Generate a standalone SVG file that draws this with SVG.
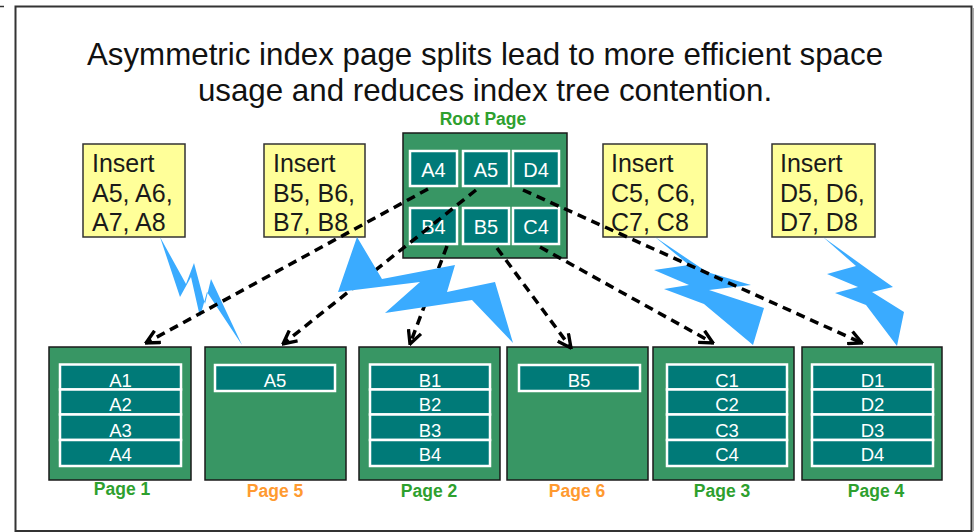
<svg xmlns="http://www.w3.org/2000/svg" width="977" height="532" viewBox="0 0 977 532">
<style>
  .title{font-family:"Liberation Sans",Arial,sans-serif;font-size:31.3px;fill:#111;text-anchor:middle}
  .ins{fill:#ffff99;stroke:#333;stroke-width:1.5}
  .instx{font-family:"Liberation Sans",Arial,sans-serif;font-size:25px;fill:#1a1a1a}
  .page{fill:#389664;stroke:#1a1a1a;stroke-width:1.5}
  .cell{fill:#007a78;stroke:#fff;stroke-width:2.5}
  .ctx{font-family:"Liberation Sans",Arial,sans-serif;font-size:20px;fill:#fff;text-anchor:middle}
  .rtx{font-family:"Liberation Sans",Arial,sans-serif;font-size:18.5px;fill:#fff;text-anchor:middle}
  .lbl{font-family:"Liberation Sans",Arial,sans-serif;font-size:17.5px;font-weight:bold;text-anchor:middle}
  .g{fill:#2ea02e}
  .o{fill:#ff9a30}
  .bolt{fill:#3aabff}
  .con{fill:none;stroke:#000;stroke-width:3.5;stroke-dasharray:9 6;marker-end:url(#ah)}
</style>
<defs>
  <marker id="ah" markerUnits="userSpaceOnUse" markerWidth="16" markerHeight="16" viewBox="0 0 12 12" refX="11" refY="6" orient="auto">
    <path d="M1,1 L11,6 L1,11" fill="none" stroke="#000" stroke-width="2.5"/>
  </marker>
</defs>
<rect x="0" y="0" width="977" height="532" fill="#fff"/>
<line x1="0" y1="6.5" x2="4" y2="6.5" stroke="#333" stroke-width="1.5"/>
<rect x="15.5" y="6.5" width="956" height="524.5" fill="none" stroke="#333" stroke-width="2"/>
<line x1="973.5" y1="8" x2="973.5" y2="531" stroke="#aaa" stroke-width="1"/>

<text class="title" x="485" y="65">Asymmetric index page splits lead to more efficient space</text>
<text class="title" x="485" y="101">usage and reduces index tree contention.</text>

<g id="insertA">
  <rect class="ins" x="83" y="144" width="102" height="93"/>
  <text class="instx" x="92" y="172">Insert</text>
  <text class="instx" x="92" y="201.5">A5, A6,</text>
  <text class="instx" x="92" y="230.5">A7, A8</text>
</g>
<g id="insertB">
  <rect class="ins" x="264" y="144" width="101" height="93"/>
  <text class="instx" x="273" y="172">Insert</text>
  <text class="instx" x="273" y="201.5">B5, B6,</text>
  <text class="instx" x="273" y="230.5">B7, B8</text>
</g>
<g id="insertC">
  <rect class="ins" x="603" y="144" width="104" height="93"/>
  <text class="instx" x="611" y="172">Insert</text>
  <text class="instx" x="611" y="201.5">C5, C6,</text>
  <text class="instx" x="611" y="230.5">C7, C8</text>
</g>
<g id="insertD">
  <rect class="ins" x="772" y="144" width="103" height="93"/>
  <text class="instx" x="780" y="172">Insert</text>
  <text class="instx" x="780" y="201.5">D5, D6,</text>
  <text class="instx" x="780" y="230.5">D7, D8</text>
</g>

<g id="root">
  <text class="lbl g" x="483" y="124.5">Root Page</text>
  <rect class="page" x="403" y="133" width="164" height="125"/>
  <rect class="cell" x="410" y="151" width="47" height="35"/>
  <rect class="cell" x="463" y="151" width="46" height="35"/>
  <rect class="cell" x="513" y="151" width="46" height="35"/>
  <rect class="cell" x="410" y="208" width="47" height="36"/>
  <rect class="cell" x="463" y="208" width="46" height="36"/>
  <rect class="cell" x="513" y="208" width="46" height="36"/>
  <text class="ctx" x="433.5" y="177">A4</text>
  <text class="ctx" x="486" y="177">A5</text>
  <text class="ctx" x="536" y="177">D4</text>
  <text class="ctx" x="433.5" y="234">B4</text>
  <text class="ctx" x="486" y="234">B5</text>
  <text class="ctx" x="536" y="234">C4</text>
</g>

<g id="page1">
  <rect class="page" x="49" y="347" width="142" height="133"/>
  <rect class="cell" x="60" y="364.5" width="121" height="25"/>
  <rect class="cell" x="60" y="389.5" width="121" height="25"/>
  <rect class="cell" x="60" y="414.5" width="121" height="25.5"/>
  <rect class="cell" x="60" y="440" width="121" height="26"/>
  <text class="rtx" x="120.5" y="387">A1</text>
  <text class="rtx" x="120.5" y="411">A2</text>
  <text class="rtx" x="120.5" y="437">A3</text>
  <text class="rtx" x="120.5" y="461">A4</text>
  <text class="lbl g" x="122" y="495">Page 1</text>
</g>
<g id="page5">
  <rect class="page" x="205" y="347" width="141" height="133"/>
  <rect class="cell" x="215" y="365" width="120" height="26"/>
  <text class="rtx" x="275" y="387">A5</text>
  <text class="lbl o" x="275" y="497">Page 5</text>
</g>
<g id="page2">
  <rect class="page" x="359" y="347" width="141" height="133"/>
  <rect class="cell" x="370" y="364.5" width="120" height="25"/>
  <rect class="cell" x="370" y="389.5" width="120" height="25"/>
  <rect class="cell" x="370" y="414.5" width="120" height="25.5"/>
  <rect class="cell" x="370" y="440" width="120" height="26"/>
  <text class="rtx" x="430" y="387">B1</text>
  <text class="rtx" x="430" y="411">B2</text>
  <text class="rtx" x="430" y="437">B3</text>
  <text class="rtx" x="430" y="461">B4</text>
  <text class="lbl g" x="429" y="497">Page 2</text>
</g>
<g id="page6">
  <rect class="page" x="507" y="347" width="141" height="133"/>
  <rect class="cell" x="519" y="365" width="121" height="26"/>
  <text class="rtx" x="579" y="387">B5</text>
  <text class="lbl o" x="577" y="497">Page 6</text>
</g>
<g id="page3">
  <rect class="page" x="653" y="347" width="141" height="133"/>
  <rect class="cell" x="667" y="364.5" width="120" height="25"/>
  <rect class="cell" x="667" y="389.5" width="120" height="25"/>
  <rect class="cell" x="667" y="414.5" width="120" height="25.5"/>
  <rect class="cell" x="667" y="440" width="120" height="26"/>
  <text class="rtx" x="727" y="387">C1</text>
  <text class="rtx" x="727" y="411">C2</text>
  <text class="rtx" x="727" y="437">C3</text>
  <text class="rtx" x="727" y="461">C4</text>
  <text class="lbl g" x="722" y="497">Page 3</text>
</g>
<g id="page4">
  <rect class="page" x="802" y="347" width="140" height="133"/>
  <rect class="cell" x="812" y="364.5" width="121" height="25"/>
  <rect class="cell" x="812" y="389.5" width="121" height="25"/>
  <rect class="cell" x="812" y="414.5" width="121" height="25.5"/>
  <rect class="cell" x="812" y="440" width="121" height="26"/>
  <text class="rtx" x="872.5" y="387">D1</text>
  <text class="rtx" x="872.5" y="411">D2</text>
  <text class="rtx" x="872.5" y="437">D3</text>
  <text class="rtx" x="872.5" y="461">D4</text>
  <text class="lbl g" x="876" y="497">Page 4</text>
</g>

<polygon class="bolt" points="160,237 186,284 194,263 205,304 211,279 242,345 207,292 200,317 191,277 180,297"/>
<polygon class="bolt" points="655,237 707,272 751,285 709,290 764,308 753,345 704,304 664,289 689,285 654,270 689,265"/>
<polygon class="bolt" points="823,237 873,273 893,287 872,292 904,312 897,346 866,305 835,293 858,287 827,274 856,266"/>

<g id="connectors">
  <line class="con" x1="428" y1="189" x2="146" y2="343"/>
  <line class="con" x1="476" y1="190" x2="283" y2="344"/>
  <line class="con" x1="447" y1="246" x2="410" y2="344"/>
  <line class="con" x1="497" y1="248" x2="571" y2="348"/>
  <line class="con" x1="540" y1="247" x2="713" y2="343"/>
  <line class="con" x1="523" y1="190" x2="862" y2="343"/>
</g>

<polygon class="bolt" points="357,237 382,279 455,265 447,292 495,282 513,343 472,300 385,313 420,282 338,292"/>
</svg>
